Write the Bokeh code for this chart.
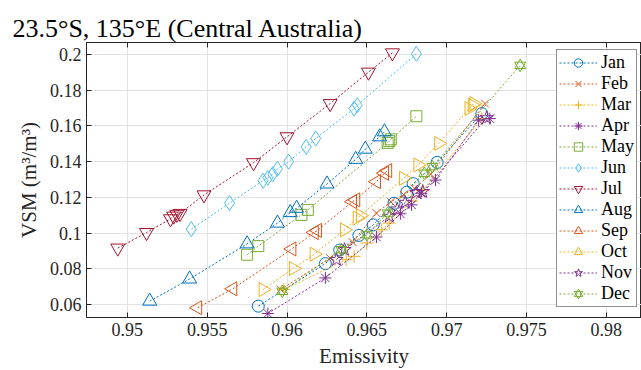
from bokeh.plotting import figure
from bokeh.models import LinearAxis, FixedTicker, Range1d, Legend, LegendItem
from bokeh.embed import file_html
from bokeh.resources import INLINE
import math

months = ["Jan", "Feb", "Mar", "Apr", "May", "Jun", "Jul", "Aug", "Sep", "Oct", "Nov", "Dec"]

jan_x = [0.9582, 0.9624, 0.9633, 0.9645, 0.9654, 0.9667, 0.9675, 0.9679, 0.9694, 0.9722]
jan_y = [0.0591, 0.0829, 0.0905, 0.0987, 0.1046, 0.1167, 0.1229, 0.1277, 0.1396, 0.1669]

feb_x = [0.9596, 0.9627, 0.9641, 0.9656, 0.9665, 0.9673, 0.9680, 0.9690, 0.9724]
feb_y = [0.0684, 0.0860, 0.0950, 0.1112, 0.1175, 0.1215, 0.1250, 0.1330, 0.1725]

mar_x = [0.9598, 0.9637, 0.9642, 0.9650, 0.9659, 0.9664, 0.9678, 0.9685, 0.9722]
mar_y = [0.0684, 0.0851, 0.0870, 0.0944, 0.1018, 0.1056, 0.1180, 0.1240, 0.1640]

apr_x = [0.9588, 0.9624, 0.9656, 0.9671, 0.9678, 0.9684, 0.9693, 0.9720, 0.9727]
apr_y = [0.0550, 0.0749, 0.0978, 0.1108, 0.1158, 0.1223, 0.1297, 0.1632, 0.1641]

may_x = [0.9575, 0.9582, 0.9609, 0.9613, 0.9663, 0.9664, 0.9665, 0.9681]
may_y = [0.0879, 0.0927, 0.1102, 0.1130, 0.1505, 0.1515, 0.1525, 0.1654]

jun_x = [0.9540, 0.9564, 0.9585, 0.9588, 0.9591, 0.9594, 0.9601, 0.9612, 0.9618, 0.9642, 0.9644, 0.9681]
jun_y = [0.1022, 0.1168, 0.1293, 0.1310, 0.1330, 0.1360, 0.1400, 0.1483, 0.1530, 0.1697, 0.1716, 0.2004]

jul_x = [0.9494, 0.9512, 0.9527, 0.9529, 0.9531, 0.9533, 0.9548, 0.9579, 0.9600, 0.9627, 0.9651, 0.9666]
jul_y = [0.0916, 0.1003, 0.1080, 0.1095, 0.1105, 0.1110, 0.1214, 0.1394, 0.1539, 0.1725, 0.1901, 0.2009]

aug_x = [0.9514, 0.9539, 0.9575, 0.9594, 0.9602, 0.9606, 0.9625, 0.9643, 0.9649, 0.9658, 0.9661]
aug_y = [0.0619, 0.0743, 0.0940, 0.1056, 0.1115, 0.1139, 0.1275, 0.1413, 0.1470, 0.1539, 0.1567]

sep_x = [0.9544, 0.9566, 0.9603, 0.9617, 0.9619, 0.9641, 0.9643, 0.9656, 0.9661, 0.9663]
sep_y = [0.0582, 0.0688, 0.0911, 0.1003, 0.1015, 0.1176, 0.1186, 0.1288, 0.1335, 0.1350]

oct_x = [0.9585, 0.9604, 0.9617, 0.9636, 0.9644, 0.9646, 0.9673, 0.9682, 0.9695, 0.9714, 0.9716, 0.9717]
oct_y = [0.0684, 0.0802, 0.0882, 0.1018, 0.1084, 0.1098, 0.1307, 0.1381, 0.1502, 0.1697, 0.1716, 0.1725]

nov_x = [0.9631, 0.9636, 0.9664, 0.9669, 0.9674, 0.9681, 0.9685, 0.9725]
nov_y = [0.0851, 0.0907, 0.1093, 0.1134, 0.1171, 0.1226, 0.1232, 0.1645]

dec_x = [0.9597, 0.9634, 0.9650, 0.9663, 0.9686, 0.9691, 0.9746]
dec_y = [0.0674, 0.0907, 0.0990, 0.1112, 0.1335, 0.1372, 0.1939]

x_ticks = [0.95, 0.955, 0.96, 0.965, 0.97, 0.975, 0.98]
x_tick_labels = ["0.95", "0.955", "0.96", "0.965", "0.97", "0.975", "0.98"]
y_ticks = [0.06, 0.08, 0.10, 0.12, 0.14, 0.16, 0.18, 0.20]
y_tick_labels = ["0.06", "0.08", "0.1", "0.12", "0.14", "0.16", "0.18", "0.2"]

colors = ["#0072BD", "#D95319", "#EDB120", "#7E2F8E", "#77AC30", "#4DBEEE",
          "#A2142F", "#0072BD", "#D95319", "#EDB120", "#7E2F8E", "#77AC30"]

xs = [jan_x, feb_x, mar_x, apr_x, may_x, jun_x, jul_x, aug_x, sep_x, oct_x, nov_x, dec_x]
ys = [jan_y, feb_y, mar_y, apr_y, may_y, jun_y, jul_y, aug_y, sep_y, oct_y, nov_y, dec_y]

# marker spec: list of (marker, size, angle)
markers = [
    [("circle", 12, 0)],
    [("x", 11, 0)],
    [("cross", 13, 0)],
    [("asterisk", 12, 0)],
    [("square", 11, 0)],
    [("diamond", 15, 0)],
    [("inverted_triangle", 14, 0)],
    [("triangle", 14, 0)],
    [("triangle", 14, math.pi / 2)],
    [("triangle", 14, -math.pi / 2)],
    [("star", 14, 0)],
    [("triangle", 11, 0), ("inverted_triangle", 11, 0)],
]

FONT = "Liberation Serif"
LFONT = "Times New Roman"
TXT = "#262626"

p = figure(width=641, height=370, output_backend="svg", toolbar_location=None,
           x_range=Range1d(0.94744, 0.9822), y_range=Range1d(0.05275, 0.2067),
           min_border_left=86, min_border_right=0, min_border_top=42, min_border_bottom=52,
           background_fill_color="white", border_fill_color="white")

p.title.text = "23.5°S, 135°E (Central Australia)"
p.title.text_font = FONT
p.title.text_font_size = "26px"
p.title.text_font_style = "normal"
p.title.text_color = "black"
p.title.align = "left"
p.title.offset = -74
p.title.standoff = 0

p.outline_line_color = TXT
p.outline_line_width = 1

for ax in (p.xaxis[0], p.yaxis[0]):
    ax.major_label_text_font = FONT
    ax.major_label_text_font_size = "18px"
    ax.major_label_text_color = TXT
    ax.axis_label_text_font = FONT
    ax.axis_label_text_font_size = "21px"
    ax.axis_label_text_font_style = "normal"
    ax.axis_label_text_color = TXT
    ax.axis_line_color = TXT
    ax.major_tick_line_color = TXT
    ax.major_tick_in = 5
    ax.major_tick_out = 0
    ax.minor_tick_line_color = None

p.xaxis[0].ticker = FixedTicker(ticks=x_ticks)
p.xaxis[0].major_label_overrides = {t: l for t, l in zip(x_ticks, x_tick_labels)}
p.yaxis[0].ticker = FixedTicker(ticks=y_ticks)
p.yaxis[0].major_label_overrides = {t: l for t, l in zip(y_ticks, y_tick_labels)}
p.xaxis[0].axis_label = "Emissivity"
p.yaxis[0].axis_label = "VSM (m³/m³)"
p.xaxis[0].axis_label_standoff = 5
p.yaxis[0].axis_label_standoff = 6

top_ax = LinearAxis(ticker=FixedTicker(ticks=x_ticks),
                    major_label_overrides={t: "" for t in x_ticks},
                    major_tick_in=5, major_tick_out=0, minor_tick_line_color=None,
                    axis_line_color=TXT, major_tick_line_color=TXT, major_label_standoff=0)
p.add_layout(top_ax, "above")

p.xgrid.ticker = FixedTicker(ticks=x_ticks)
p.ygrid.ticker = FixedTicker(ticks=y_ticks)
p.grid.grid_line_color = "#E3E3E3"
p.grid.grid_line_width = 1

items = []
for name, x, y, c, mk in zip(months, xs, ys, colors, markers):
    rs = [p.line(x, y, line_color=c, line_dash="2 2", line_width=1)]
    for (m, s, a) in mk:
        rs.append(p.scatter(x, y, marker=m, size=s, angle=a, line_color=c,
                            fill_color=None, line_width=1))
    items.append(LegendItem(label=name, renderers=rs))

legend = Legend(items=items, location=(470, 10), label_text_font=LFONT,
                label_text_font_size="18px", label_text_color="black",
                glyph_width=38, glyph_height=21, label_height=21, spacing=0,
                padding=2, margin=0, label_standoff=4,
                border_line_color=TXT, border_line_width=1,
                background_fill_color="white", background_fill_alpha=1)
p.add_layout(legend, "center")

open("out.html", "w").write(file_html(p, INLINE))
